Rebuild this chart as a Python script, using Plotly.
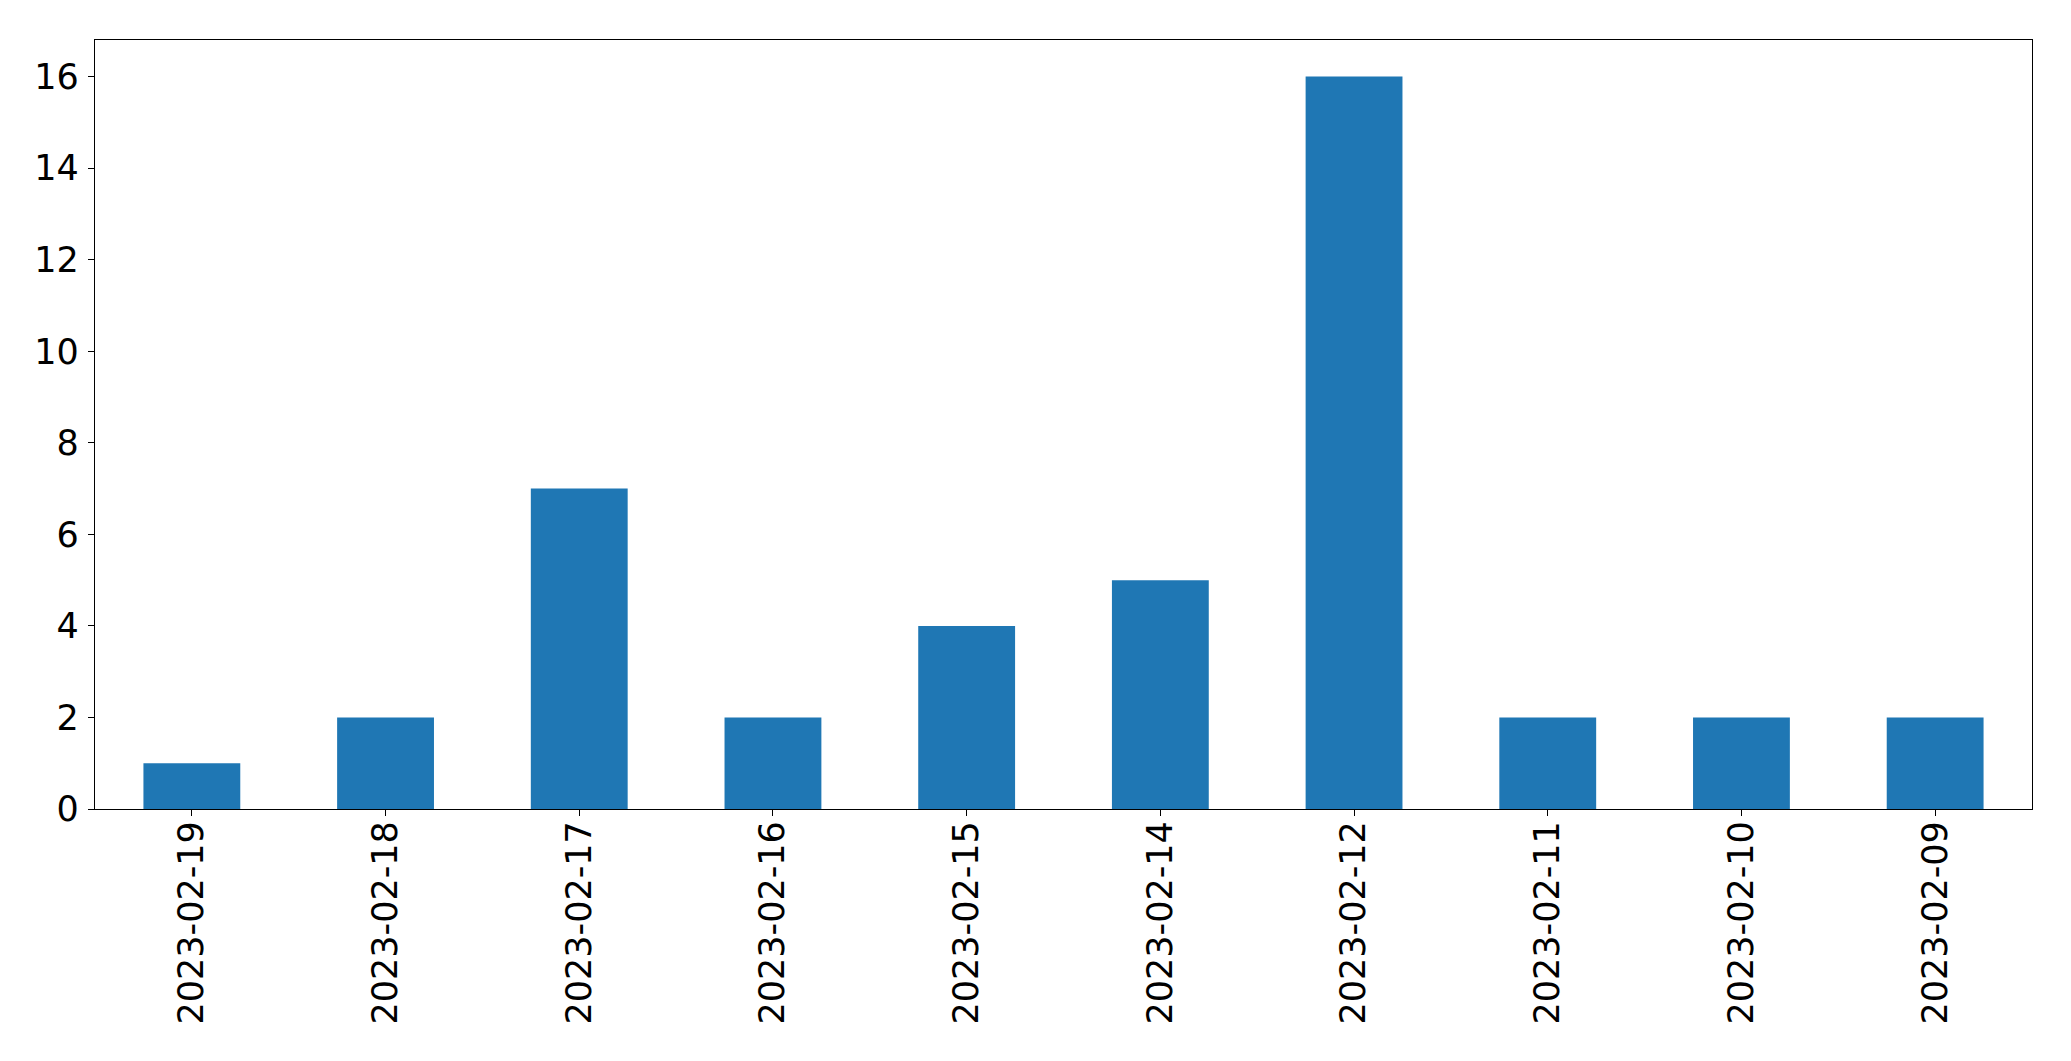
import plotly.graph_objects as go

dates = ["2023-02-19", "2023-02-18", "2023-02-17", "2023-02-16", "2023-02-15",
         "2023-02-14", "2023-02-12", "2023-02-11", "2023-02-10", "2023-02-09"]
counts = [1, 2, 7, 2, 4, 5, 16, 2, 2, 2]
y_ticks = [0, 2, 4, 6, 8, 10, 12, 14, 16]

W, H = 2071, 1061
L, R, T, B = 94.5, 2032, 39.5, 809

fig = go.Figure(go.Bar(x=dates, y=counts, marker_color="#1f77b4",
                       marker_line_width=0, width=0.5))

font = dict(family="DejaVu Sans", size=35, color="black")
fig.update_layout(
    width=W, height=H,
    margin=dict(l=L, r=W - R, t=T, b=H - B, autoexpand=False),
    plot_bgcolor="white", paper_bgcolor="white",
    showlegend=False, bargap=0.5,
    font=font,
)
fig.update_xaxes(
    type="category", range=[-0.5, len(dates) - 0.5],
    showline=True, linecolor="black", linewidth=1.3, mirror=True,
    ticks="outside", ticklen=6, tickwidth=1.3, tickcolor="black",
    tickangle=-90, tickfont=font, showgrid=False, zeroline=False,
    ticklabelstandoff=-9,
)
fig.update_yaxes(
    range=[0, 16.8], tickvals=y_ticks,
    showline=True, linecolor="black", linewidth=1.3, mirror=True,
    ticks="outside", ticklen=6, tickwidth=1.3, tickcolor="black",
    tickfont=font, showgrid=False, zeroline=False,
    ticklabelstandoff=2,
)
fig.write_html(
    "out.html",
    config={"displayModeBar": False},
    post_script="document.body.style.margin='0';document.body.style.overflow='hidden';",
)
